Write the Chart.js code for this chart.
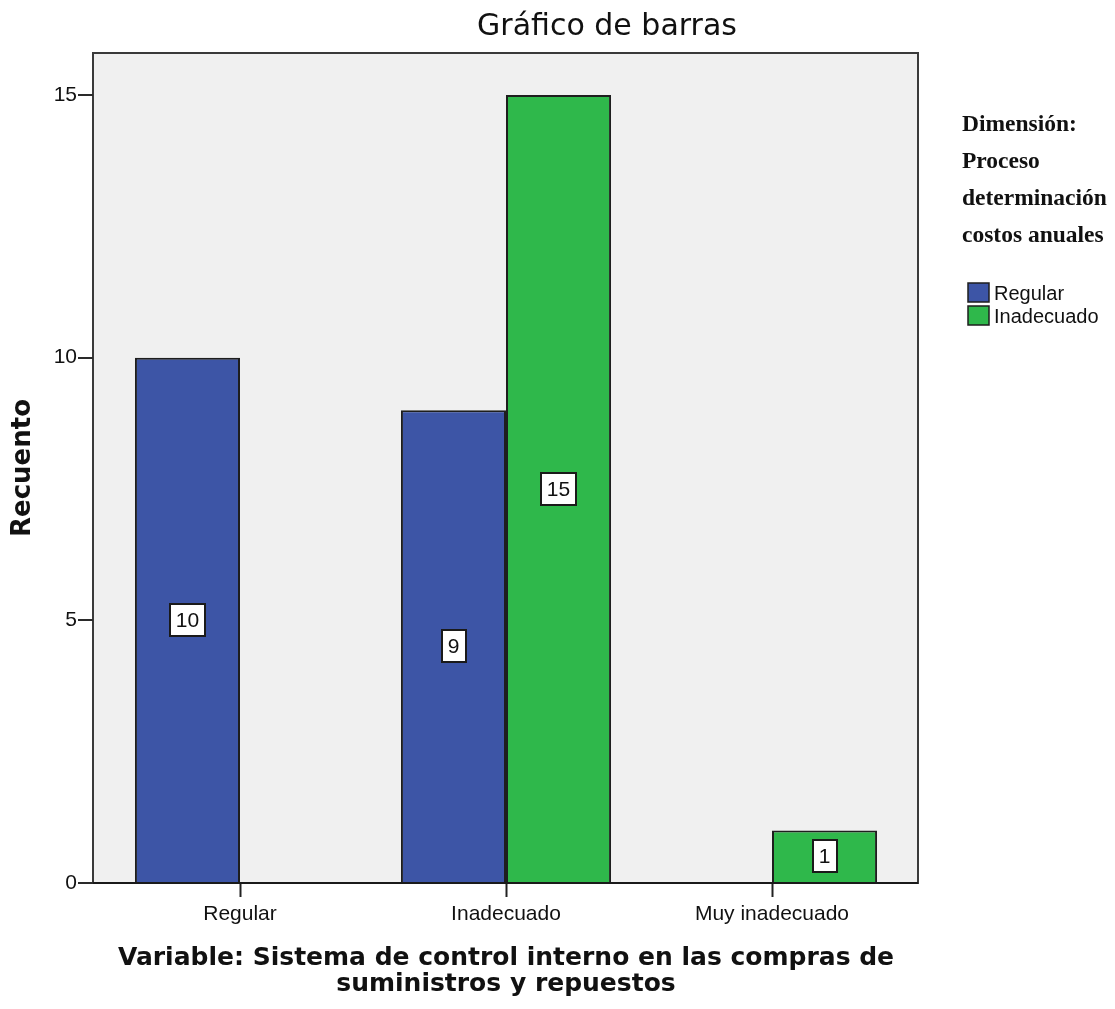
<!DOCTYPE html>
<html>
<head>
<meta charset="utf-8">
<script src="https://cdn.jsdelivr.net/npm/chart.js@4/dist/chart.umd.min.js"></script>
<style>
  html, body { margin: 0; padding: 0; background: #ffffff; }
  #wrap { width: 1115px; height: 1009px; }
</style>
</head>
<body>
<div id="wrap"><canvas id="c" width="1115" height="1009"></canvas></div>
<script>
// Categories of the variable and counts per dimension level
const categories = ['Regular', 'Inadecuado', 'Muy inadecuado'];
const seriesNames = ['Regular', 'Inadecuado'];
const regularCounts = [10, 9, null];
const inadecuadoCounts = [null, 15, 1];
const yTickValues = [0, 5, 10, 15];

const chartTitle = 'Gráfico de barras';
const yTitle = 'Recuento';
const xTitle = ['Variable: Sistema de control interno en las compras de', 'suministros y repuestos'];
const legendTitle = ['Dimensión:', 'Proceso', 'determinación', 'costos anuales'];

const BLUE = '#3d55a6';
const GREEN = '#2fb84b';
const EDGE = '#1e1e1e';
const SANS = '"Liberation Sans", Arial, sans-serif';

// Frame of the plot panel, slightly wider than the category band
const FRAME = { left: 93, right: 918 };

const panelPlugin = {
  id: 'panel',
  beforeDraw(chart) {
    const { ctx, chartArea } = chart;
    ctx.save();
    ctx.fillStyle = '#ffffff';
    ctx.fillRect(0, 0, chart.width, chart.height);
    ctx.fillStyle = '#f0f0f0';
    ctx.fillRect(FRAME.left, chartArea.top, FRAME.right - FRAME.left, chartArea.bottom - chartArea.top);
    ctx.restore();
  },
  afterDatasetsDraw(chart) {
    const { ctx, chartArea } = chart;
    const y = chart.scales.y;
    ctx.save();
    // panel border
    ctx.strokeStyle = '#3a3a3a';
    ctx.lineWidth = 2;
    ctx.strokeRect(FRAME.left, chartArea.top, FRAME.right - FRAME.left, chartArea.bottom - chartArea.top);
    ctx.strokeStyle = '#1a1a1a';
    ctx.beginPath();
    ctx.moveTo(FRAME.left, chartArea.bottom);
    ctx.lineTo(FRAME.right, chartArea.bottom);
    ctx.stroke();
    // y tick marks on the panel edge
    ctx.lineWidth = 2;
    ctx.strokeStyle = '#2a2a2a';
    y.ticks.forEach(t => {
      const py = Math.round(y.getPixelForValue(t.value));
      ctx.beginPath();
      ctx.moveTo(78, py);
      ctx.lineTo(FRAME.left, py);
      ctx.stroke();
    });

    // value boxes at mid-height of each bar
    ctx.font = '21px ' + SANS;
    ctx.textAlign = 'center';
    ctx.textBaseline = 'middle';
    chart.data.datasets.forEach((ds, di) => {
      const meta = chart.getDatasetMeta(di);
      meta.data.forEach((el, i) => {
        const v = ds.data[i];
        if (v === null || v === undefined) return;
        const cx = el.x;
        const cy = (el.y + el.base) / 2;
        const txt = String(v);
        const w = ctx.measureText(txt).width + 12;
        const h = 32;
        ctx.fillStyle = '#ffffff';
        ctx.fillRect(Math.round(cx - w / 2), Math.round(cy - h / 2), Math.round(w), h);
        ctx.strokeStyle = '#1a1a1a';
        ctx.lineWidth = 2;
        ctx.strokeRect(Math.round(cx - w / 2), Math.round(cy - h / 2), Math.round(w), h);
        ctx.fillStyle = '#111111';
        ctx.fillText(txt, cx, cy + 1);
      });
    });
    ctx.restore();
  },
  afterDraw(chart) {
    const { ctx } = chart;
    ctx.save();
    // chart title
    ctx.fillStyle = '#111111';
    ctx.font = '30px "DejaVu Sans", Verdana, sans-serif';
    ctx.textAlign = 'center';
    ctx.textBaseline = 'alphabetic';
    ctx.fillText(chartTitle, 607, 35);

    // legend heading
    ctx.textAlign = 'left';
    ctx.font = 'bold 23.5px "Liberation Serif", "Times New Roman", serif';
    const baselines = [131, 168, 205, 242];
    legendTitle.forEach((line, i) => ctx.fillText(line, 962, baselines[i]));

    // legend entries
    const colors = chart.data.datasets.map(d => d.backgroundColor);
    const rows = [293, 316];
    ctx.font = '20px ' + SANS;
    ctx.textBaseline = 'middle';
    seriesNames.forEach((name, i) => {
      const cy = rows[i];
      ctx.fillStyle = colors[i];
      ctx.fillRect(968, cy - 10, 21, 19);
      ctx.strokeStyle = '#1e1e1e';
      ctx.lineWidth = 1.5;
      ctx.strokeRect(968, cy - 10, 21, 19);
      ctx.fillStyle = '#111111';
      ctx.fillText(name, 994, cy + 1);
    });
    ctx.restore();
  }
};

new Chart(document.getElementById('c'), {
  type: 'bar',
  data: {
    labels: categories,
    datasets: [
      { label: seriesNames[0], data: regularCounts, backgroundColor: BLUE, borderColor: EDGE, borderWidth: 2 },
      { label: seriesNames[1], data: inadecuadoCounts, backgroundColor: GREEN, borderColor: EDGE, borderWidth: 2 }
    ]
  },
  options: {
    responsive: false,
    animation: false,
    devicePixelRatio: 1,
    categoryPercentage: 0.79,
    barPercentage: 1,
    layout: { padding: { top: 53, right: 210, bottom: 0, left: 0 } },
    plugins: {
      legend: { display: false },
      title: { display: false },
      tooltip: { enabled: false }
    },
    scales: {
      x: {
        offset: true,
        afterFit(s) { s.height = 126; },
        grid: { offset: false, drawOnChartArea: false, drawTicks: true, tickLength: 14, tickColor: '#222222', tickWidth: 2 },
        border: { display: false },
        ticks: { color: '#111111', font: { family: SANS, size: 21 }, padding: 5, maxRotation: 0, autoSkip: false },
        title: {
          display: true,
          text: xTitle,
          color: '#111111',
          font: { family: '"DejaVu Sans", Verdana, sans-serif', size: 25, weight: 'bold', lineHeight: 1.04 },
          padding: { top: 0, bottom: 12 }
        }
      },
      y: {
        min: 0,
        max: 15.8,
        afterFit(s) { s.width = 107; },
        afterBuildTicks(s) { s.ticks = yTickValues.map(v => ({ value: v })); },
        grid: { drawOnChartArea: false, drawTicks: false },
        border: { display: false },
        ticks: { color: '#111111', font: { family: SANS, size: 21 }, padding: 30, includeBounds: false },
        title: {
          display: true,
          text: yTitle,
          color: '#111111',
          font: { family: '"DejaVu Sans", Verdana, sans-serif', size: 26, weight: 'bold' },
          padding: { top: 8, bottom: 0 }
        }
      }
    }
  },
  plugins: [panelPlugin]
});
</script>
</body>
</html>
